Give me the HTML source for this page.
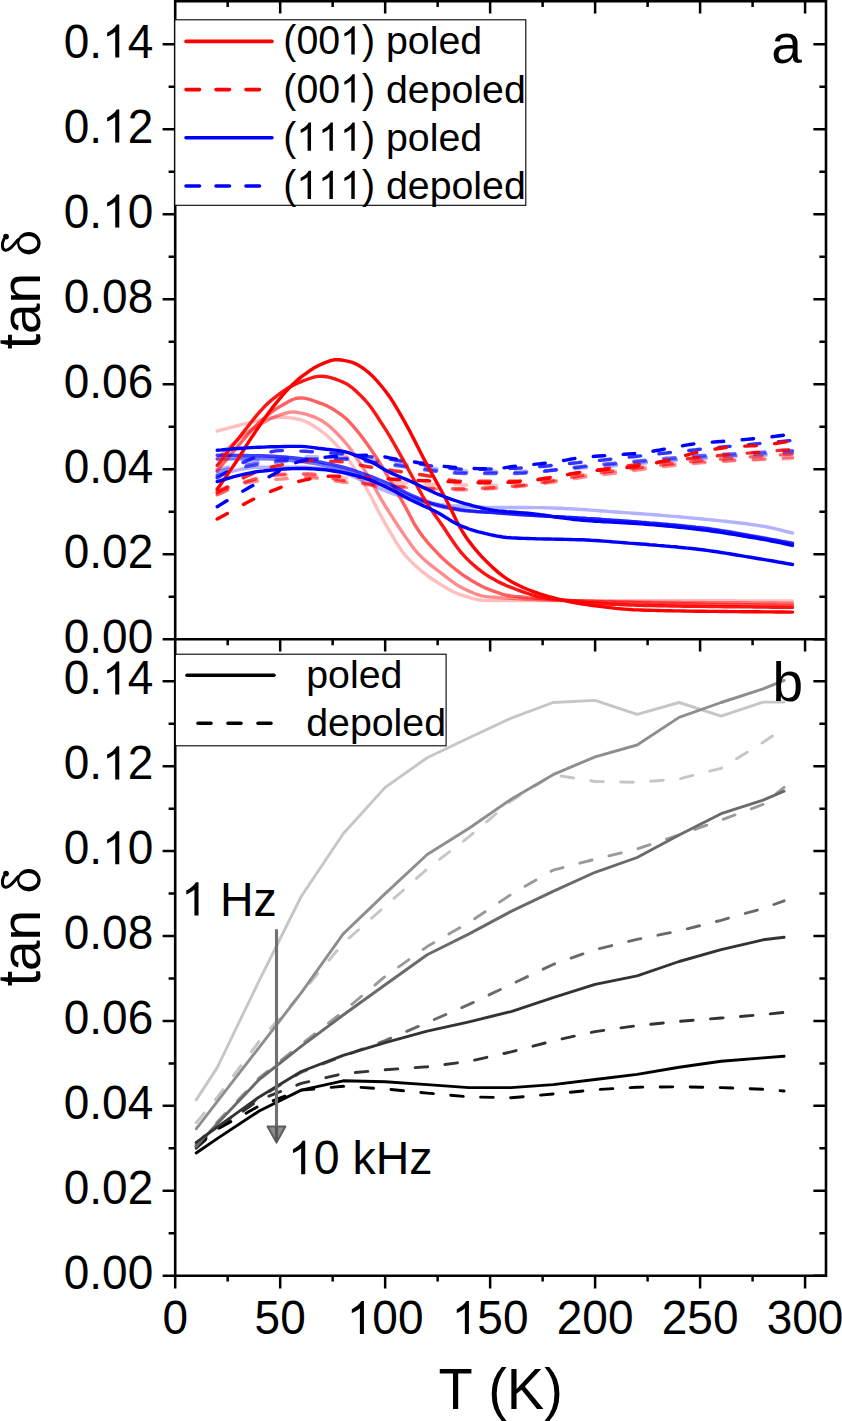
<!DOCTYPE html>
<html><head><meta charset="utf-8"><style>
html,body{margin:0;padding:0;background:#fff;}
svg{display:block;}
text{font-family:"Liberation Sans",sans-serif;fill:#000;font-kerning:none;white-space:pre;}
</style></head><body>
<svg width="842" height="1421" viewBox="0 0 842 1421">
<rect width="842" height="1421" fill="#fff"/>
<path d="M217.2 489.7 L221.4 488.7 L225.6 487.6 L229.8 486.3 L234.0 485.1 L238.2 483.8 L242.4 482.5 L246.6 481.3 L250.8 480.1 L255.0 478.9 L259.2 477.9 L263.4 477.0 L267.6 476.3 L271.8 475.7 L276.0 475.4 L280.2 475.2 L284.4 475.3 L288.6 475.3 L292.8 475.4 L297.0 475.5 L301.2 475.7 L305.4 475.8 L309.6 476.0 L313.8 476.2 L318.0 476.4 L322.2 476.7 L326.4 476.9 L330.6 477.1 L334.8 477.3 L339.0 477.6 L343.2 477.8 L347.4 478.0 L351.6 478.3 L355.8 478.6 L360.0 479.0 L364.2 479.3 L368.4 479.7 L372.6 480.1 L376.8 480.5 L381.0 480.9 L385.2 481.3 L389.4 481.7 L393.6 482.0 L397.8 482.4 L402.0 482.8 L406.2 483.1 L410.4 483.4 L414.6 483.6 L418.8 483.9 L423.0 484.0 L427.2 484.2 L431.4 484.3 L435.6 484.4 L439.7 484.5 L443.9 484.6 L448.1 484.7 L452.3 484.8 L456.5 484.8 L460.7 484.9 L464.9 485.0 L469.1 485.1 L473.3 485.1 L477.5 485.2 L481.7 485.3 L485.9 485.3 L490.1 485.4 L494.3 485.4 L498.5 485.4 L502.7 485.4 L506.9 485.4 L511.1 485.4 L515.3 485.4 L519.5 485.2 L523.7 484.9 L527.9 484.6 L532.1 484.1 L536.3 483.5 L540.5 482.9 L544.7 482.3 L548.9 481.6 L553.1 480.8 L557.3 480.1 L561.5 479.3 L565.7 478.5 L569.9 477.7 L574.1 476.9 L578.3 476.1 L582.5 475.4 L586.7 474.7 L590.9 474.1 L595.1 473.5 L599.3 473.0 L603.5 472.5 L607.7 471.9 L611.9 471.3 L616.1 470.8 L620.3 470.2 L624.5 469.6 L628.7 469.1 L632.9 468.5 L637.1 467.9 L641.3 467.4 L645.5 466.9 L649.7 466.3 L653.9 465.8 L658.1 465.3 L662.3 464.8 L666.5 464.4 L670.7 463.9 L674.9 463.5 L679.1 463.1 L683.3 462.8 L687.5 462.4 L691.7 462.1 L695.9 461.9 L700.1 461.6 L704.3 461.4 L708.5 461.3 L712.7 461.1 L716.9 460.9 L721.1 460.8 L725.3 460.6 L729.5 460.5 L733.7 460.3 L737.9 460.2 L742.1 460.1 L746.3 460.0 L750.5 459.8 L754.7 459.7 L758.9 459.6 L763.1 459.5 L767.3 459.4 L771.5 459.3 L775.7 459.2 L779.9 459.1 L784.1 458.9 L788.3 458.8 L792.5 458.7" fill="none" stroke="rgb(255, 0, 0)" stroke-opacity="0.25" stroke-width="3.4" stroke-linecap="round" stroke-linejoin="round" stroke-dasharray="11.5 18.5"/>
<path d="M217.2 469.3 L221.4 468.4 L225.6 467.5 L229.8 466.6 L234.0 465.6 L238.2 464.7 L242.4 463.8 L246.6 462.9 L250.8 462.1 L255.0 461.4 L259.2 460.8 L263.4 460.2 L267.6 459.6 L271.8 459.0 L276.0 458.5 L280.2 458.0 L284.4 457.5 L288.6 457.1 L292.8 456.8 L297.0 456.6 L301.2 456.5 L305.4 456.6 L309.6 456.6 L313.8 456.6 L318.0 456.7 L322.2 456.8 L326.4 456.9 L330.6 457.0 L334.8 457.1 L339.0 457.3 L343.2 457.4 L347.4 457.6 L351.6 457.9 L355.8 458.2 L360.0 458.7 L364.2 459.1 L368.4 459.7 L372.6 460.2 L376.8 460.7 L381.0 461.2 L385.2 461.6 L389.4 462.1 L393.6 462.6 L397.8 463.2 L402.0 463.7 L406.2 464.3 L410.4 464.9 L414.6 465.5 L418.8 466.1 L423.0 466.7 L427.2 467.3 L431.4 467.8 L435.6 468.4 L439.7 468.9 L443.9 469.3 L448.1 469.8 L452.3 470.1 L456.5 470.4 L460.7 470.7 L464.9 470.9 L469.1 471.0 L473.3 471.1 L477.5 471.1 L481.7 471.2 L485.9 471.3 L490.1 471.3 L494.3 471.3 L498.5 471.4 L502.7 471.4 L506.9 471.4 L511.1 471.4 L515.3 471.4 L519.5 471.4 L523.7 471.3 L527.9 471.1 L532.1 471.0 L536.3 470.8 L540.5 470.6 L544.7 470.4 L548.9 470.2 L553.1 469.9 L557.3 469.7 L561.5 469.4 L565.7 469.1 L569.9 468.9 L574.1 468.6 L578.3 468.3 L582.5 468.0 L586.7 467.7 L590.9 467.4 L595.1 467.2 L599.3 466.9 L603.5 466.6 L607.7 466.3 L611.9 466.0 L616.1 465.7 L620.3 465.3 L624.5 465.0 L628.7 464.6 L632.9 464.2 L637.1 463.9 L641.3 463.5 L645.5 463.1 L649.7 462.7 L653.9 462.4 L658.1 462.0 L662.3 461.6 L666.5 461.2 L670.7 460.9 L674.9 460.5 L679.1 460.2 L683.3 459.9 L687.5 459.5 L691.7 459.2 L695.9 458.9 L700.1 458.7 L704.3 458.4 L708.5 458.2 L712.7 457.9 L716.9 457.7 L721.1 457.5 L725.3 457.2 L729.5 457.0 L733.7 456.8 L737.9 456.6 L742.1 456.4 L746.3 456.2 L750.5 456.0 L754.7 455.8 L758.9 455.6 L763.1 455.4 L767.3 455.2 L771.5 455.0 L775.7 454.8 L779.9 454.6 L784.1 454.4 L788.3 454.2 L792.5 454.0" fill="none" stroke="rgb(0, 0, 255)" stroke-opacity="0.25" stroke-width="3.4" stroke-linecap="round" stroke-linejoin="round" stroke-dasharray="11.5 18.5"/>
<path d="M217.2 431.0 L221.4 429.9 L225.6 428.8 L229.8 427.7 L234.0 426.6 L238.2 425.5 L242.4 424.4 L246.6 423.4 L250.8 422.3 L255.0 421.3 L259.2 420.4 L263.4 419.5 L267.6 418.6 L271.8 417.8 L276.0 417.2 L280.2 417.0 L284.4 417.2 L288.6 417.6 L292.8 418.2 L297.0 419.0 L301.2 419.9 L305.4 421.4 L309.6 423.5 L313.8 426.0 L318.0 428.9 L322.2 431.8 L326.4 435.1 L330.6 439.0 L334.8 443.2 L339.0 447.8 L343.2 452.7 L347.4 458.1 L351.6 464.2 L355.8 470.8 L360.0 477.6 L364.2 484.6 L368.4 491.9 L372.6 499.8 L376.8 507.9 L381.0 515.9 L385.2 523.6 L389.4 530.8 L393.6 537.9 L397.8 544.9 L402.0 551.2 L406.2 556.4 L410.4 560.9 L414.6 565.0 L418.8 568.7 L423.0 572.2 L427.2 575.5 L431.4 578.5 L435.6 581.3 L439.7 583.9 L443.9 586.5 L448.1 588.9 L452.3 591.2 L456.5 593.2 L460.7 594.9 L464.9 596.2 L469.1 597.4 L473.3 598.6 L477.5 599.5 L481.7 600.2 L485.9 600.6 L490.1 600.6 L494.3 600.6 L498.5 600.6 L502.7 600.6 L506.9 600.6 L511.1 600.6 L515.3 600.6 L519.5 600.6 L523.7 600.6 L527.9 600.6 L532.1 600.6 L536.3 600.6 L540.5 600.6 L544.7 600.6 L548.9 600.6 L553.1 600.6 L557.3 600.6 L561.5 600.6 L565.7 600.6 L569.9 600.6 L574.1 600.6 L578.3 600.6 L582.5 600.6 L586.7 600.6 L590.9 600.6 L595.1 600.6 L599.3 600.6 L603.5 600.6 L607.7 600.6 L611.9 600.6 L616.1 600.6 L620.3 600.6 L624.5 600.6 L628.7 600.6 L632.9 600.6 L637.1 600.6 L641.3 600.6 L645.5 600.6 L649.7 600.6 L653.9 600.6 L658.1 600.6 L662.3 600.6 L666.5 600.6 L670.7 600.7 L674.9 600.7 L679.1 600.7 L683.3 600.7 L687.5 600.7 L691.7 600.7 L695.9 600.7 L700.1 600.7 L704.3 600.7 L708.5 600.8 L712.7 600.8 L716.9 600.8 L721.1 600.8 L725.3 600.8 L729.5 600.8 L733.7 600.8 L737.9 600.9 L742.1 600.9 L746.3 600.9 L750.5 600.9 L754.7 600.9 L758.9 600.9 L763.1 601.0 L767.3 601.0 L771.5 601.0 L775.7 601.0 L779.9 601.0 L784.1 601.0 L788.3 601.0 L792.5 601.0" fill="none" stroke="rgb(255, 0, 0)" stroke-opacity="0.25" stroke-width="3.4" stroke-linecap="round" stroke-linejoin="round"/>
<path d="M217.2 474.4 L221.4 473.6 L225.6 472.7 L229.8 471.8 L234.0 470.8 L238.2 469.9 L242.4 469.0 L246.6 468.3 L250.8 467.7 L255.0 467.3 L259.2 467.2 L263.4 467.2 L267.6 467.2 L271.8 467.2 L276.0 467.2 L280.2 467.2 L284.4 467.2 L288.6 467.2 L292.8 467.2 L297.0 467.2 L301.2 467.2 L305.4 467.2 L309.6 467.5 L313.8 467.8 L318.0 468.3 L322.2 468.8 L326.4 469.5 L330.6 470.2 L334.8 471.0 L339.0 471.8 L343.2 472.7 L347.4 473.9 L351.6 475.6 L355.8 477.6 L360.0 479.7 L364.2 481.8 L368.4 483.7 L372.6 485.5 L376.8 487.3 L381.0 489.1 L385.2 490.7 L389.4 492.3 L393.6 493.8 L397.8 495.3 L402.0 496.7 L406.2 498.0 L410.4 499.0 L414.6 500.0 L418.8 500.9 L423.0 501.8 L427.2 502.6 L431.4 503.3 L435.6 503.9 L439.7 504.4 L443.9 504.9 L448.1 505.3 L452.3 505.7 L456.5 506.0 L460.7 506.3 L464.9 506.6 L469.1 506.8 L473.3 507.0 L477.5 507.2 L481.7 507.3 L485.9 507.4 L490.1 507.5 L494.3 507.5 L498.5 507.5 L502.7 507.5 L506.9 507.5 L511.1 507.5 L515.3 507.5 L519.5 507.5 L523.7 507.5 L527.9 507.5 L532.1 507.6 L536.3 507.6 L540.5 507.6 L544.7 507.7 L548.9 507.9 L553.1 508.0 L557.3 508.2 L561.5 508.3 L565.7 508.6 L569.9 508.8 L574.1 509.0 L578.3 509.3 L582.5 509.5 L586.7 509.8 L590.9 510.1 L595.1 510.4 L599.3 510.7 L603.5 511.0 L607.7 511.4 L611.9 511.7 L616.1 512.0 L620.3 512.3 L624.5 512.6 L628.7 512.9 L632.9 513.2 L637.1 513.5 L641.3 513.8 L645.5 514.1 L649.7 514.4 L653.9 514.7 L658.1 515.0 L662.3 515.4 L666.5 515.7 L670.7 516.1 L674.9 516.4 L679.1 516.8 L683.3 517.2 L687.5 517.6 L691.7 518.0 L695.9 518.4 L700.1 518.8 L704.3 519.2 L708.5 519.6 L712.7 520.0 L716.9 520.4 L721.1 520.9 L725.3 521.3 L729.5 521.8 L733.7 522.2 L737.9 522.7 L742.1 523.2 L746.3 523.8 L750.5 524.4 L754.7 525.0 L758.9 525.6 L763.1 526.2 L767.3 527.0 L771.5 527.9 L775.7 528.9 L779.9 529.9 L784.1 531.0 L788.3 532.0 L792.5 533.0" fill="none" stroke="rgb(0, 0, 255)" stroke-opacity="0.3" stroke-width="3.4" stroke-linecap="round" stroke-linejoin="round"/>
<path d="M217.2 471.4 L221.4 470.5 L225.6 469.6 L229.8 468.7 L234.0 467.8 L238.2 466.8 L242.4 465.9 L246.6 465.1 L250.8 464.3 L255.0 463.5 L259.2 462.9 L263.4 462.3 L267.6 461.8 L271.8 461.2 L276.0 460.6 L280.2 460.1 L284.4 459.6 L288.6 459.2 L292.8 458.9 L297.0 458.7 L301.2 458.7 L305.4 458.7 L309.6 458.7 L313.8 458.7 L318.0 458.7 L322.2 458.7 L326.4 458.7 L330.6 458.7 L334.8 458.7 L339.0 458.7 L343.2 458.7 L347.4 458.8 L351.6 459.0 L355.8 459.4 L360.0 459.9 L364.2 460.4 L368.4 461.0 L372.6 461.7 L376.8 462.3 L381.0 462.8 L385.2 463.3 L389.4 463.8 L393.6 464.4 L397.8 464.9 L402.0 465.5 L406.2 466.1 L410.4 466.7 L414.6 467.4 L418.8 468.0 L423.0 468.6 L427.2 469.2 L431.4 469.8 L435.6 470.3 L439.7 470.8 L443.9 471.3 L448.1 471.7 L452.3 472.0 L456.5 472.3 L460.7 472.5 L464.9 472.7 L469.1 472.7 L473.3 472.7 L477.5 472.7 L481.7 472.7 L485.9 472.7 L490.1 472.7 L494.3 472.7 L498.5 472.7 L502.7 472.7 L506.9 472.7 L511.1 472.7 L515.3 472.7 L519.5 472.6 L523.7 472.4 L527.9 472.2 L532.1 472.0 L536.3 471.7 L540.5 471.3 L544.7 471.0 L548.9 470.6 L553.1 470.1 L557.3 469.7 L561.5 469.3 L565.7 468.8 L569.9 468.4 L574.1 467.9 L578.3 467.5 L582.5 467.1 L586.7 466.6 L590.9 466.3 L595.1 465.9 L599.3 465.6 L603.5 465.2 L607.7 464.9 L611.9 464.5 L616.1 464.1 L620.3 463.8 L624.5 463.4 L628.7 463.1 L632.9 462.7 L637.1 462.3 L641.3 462.0 L645.5 461.6 L649.7 461.3 L653.9 460.9 L658.1 460.6 L662.3 460.2 L666.5 459.9 L670.7 459.5 L674.9 459.2 L679.1 458.9 L683.3 458.6 L687.5 458.3 L691.7 458.0 L695.9 457.7 L700.1 457.4 L704.3 457.1 L708.5 456.9 L712.7 456.6 L716.9 456.4 L721.1 456.1 L725.3 455.9 L729.5 455.6 L733.7 455.4 L737.9 455.2 L742.1 455.0 L746.3 454.7 L750.5 454.5 L754.7 454.3 L758.9 454.1 L763.1 453.9 L767.3 453.6 L771.5 453.4 L775.7 453.2 L779.9 453.0 L784.1 452.8 L788.3 452.5 L792.5 452.3" fill="none" stroke="rgb(0, 0, 255)" stroke-opacity="0.42" stroke-width="3.4" stroke-linecap="round" stroke-linejoin="round" stroke-dasharray="11.5 18.5"/>
<path d="M217.2 491.4 L221.4 490.2 L225.6 488.9 L229.8 487.5 L234.0 486.2 L238.2 484.9 L242.4 483.8 L246.6 482.8 L250.8 482.0 L255.0 481.5 L259.2 480.9 L263.4 480.5 L267.6 480.0 L271.8 479.7 L276.0 479.4 L280.2 479.1 L284.4 478.8 L288.6 478.6 L292.8 478.3 L297.0 478.1 L301.2 477.9 L305.4 477.8 L309.6 477.8 L313.8 477.9 L318.0 478.3 L322.2 478.8 L326.4 479.5 L330.6 480.1 L334.8 480.9 L339.0 481.5 L343.2 482.0 L347.4 482.5 L351.6 483.0 L355.8 483.5 L360.0 484.0 L364.2 484.4 L368.4 484.9 L372.6 485.3 L376.8 485.7 L381.0 486.0 L385.2 486.3 L389.4 486.6 L393.6 486.8 L397.8 487.1 L402.0 487.4 L406.2 487.6 L410.4 487.9 L414.6 488.1 L418.8 488.3 L423.0 488.6 L427.2 488.8 L431.4 489.0 L435.6 489.1 L439.7 489.3 L443.9 489.4 L448.1 489.5 L452.3 489.6 L456.5 489.7 L460.7 489.7 L464.9 489.7 L469.1 489.6 L473.3 489.5 L477.5 489.4 L481.7 489.2 L485.9 488.9 L490.1 488.7 L494.3 488.4 L498.5 488.1 L502.7 487.8 L506.9 487.5 L511.1 487.1 L515.3 486.8 L519.5 486.4 L523.7 486.0 L527.9 485.5 L532.1 485.0 L536.3 484.4 L540.5 483.9 L544.7 483.3 L548.9 482.6 L553.1 482.0 L557.3 481.3 L561.5 480.7 L565.7 480.0 L569.9 479.4 L574.1 478.7 L578.3 478.1 L582.5 477.4 L586.7 476.8 L590.9 476.2 L595.1 475.7 L599.3 475.1 L603.5 474.6 L607.7 474.0 L611.9 473.5 L616.1 472.9 L620.3 472.3 L624.5 471.7 L628.7 471.2 L632.9 470.6 L637.1 470.0 L641.3 469.5 L645.5 468.9 L649.7 468.4 L653.9 467.8 L658.1 467.3 L662.3 466.8 L666.5 466.3 L670.7 465.8 L674.9 465.3 L679.1 464.9 L683.3 464.5 L687.5 464.0 L691.7 463.6 L695.9 463.3 L700.1 462.9 L704.3 462.6 L708.5 462.3 L712.7 462.0 L716.9 461.7 L721.1 461.4 L725.3 461.2 L729.5 460.9 L733.7 460.6 L737.9 460.4 L742.1 460.2 L746.3 459.9 L750.5 459.7 L754.7 459.5 L758.9 459.3 L763.1 459.0 L767.3 458.8 L771.5 458.6 L775.7 458.4 L779.9 458.1 L784.1 457.9 L788.3 457.6 L792.5 457.4" fill="none" stroke="rgb(255, 0, 0)" stroke-opacity="0.45" stroke-width="3.4" stroke-linecap="round" stroke-linejoin="round" stroke-dasharray="11.5 18.5"/>
<path d="M217.2 458.7 L221.4 454.8 L225.6 450.8 L229.8 446.9 L234.0 443.1 L238.2 439.5 L242.4 436.2 L246.6 433.0 L250.8 430.0 L255.0 427.2 L259.2 424.7 L263.4 422.4 L267.6 420.2 L271.8 418.1 L276.0 416.4 L280.2 414.9 L284.4 413.6 L288.6 412.4 L292.8 411.9 L297.0 412.3 L301.2 413.1 L305.4 414.0 L309.6 415.3 L313.8 416.8 L318.0 418.8 L322.2 421.0 L326.4 423.8 L330.6 427.3 L334.8 431.2 L339.0 435.5 L343.2 440.0 L347.4 445.0 L351.6 450.6 L355.8 456.8 L360.0 463.2 L364.2 469.7 L368.4 476.6 L372.6 483.9 L376.8 491.4 L381.0 498.8 L385.2 505.8 L389.4 512.6 L393.6 519.1 L397.8 525.5 L402.0 531.7 L406.2 537.9 L410.4 543.9 L414.6 549.5 L418.8 554.3 L423.0 558.4 L427.2 562.2 L431.4 565.6 L435.6 568.8 L439.7 572.0 L443.9 575.2 L448.1 578.5 L452.3 581.7 L456.5 584.6 L460.7 587.1 L464.9 589.2 L469.1 591.1 L473.3 593.0 L477.5 594.6 L481.7 595.8 L485.9 596.6 L490.1 597.0 L494.3 597.3 L498.5 597.6 L502.7 597.9 L506.9 598.1 L511.1 598.4 L515.3 598.6 L519.5 598.8 L523.7 599.1 L527.9 599.3 L532.1 599.4 L536.3 599.6 L540.5 599.8 L544.7 600.0 L548.9 600.1 L553.1 600.2 L557.3 600.4 L561.5 600.5 L565.7 600.6 L569.9 600.7 L574.1 600.8 L578.3 600.9 L582.5 601.0 L586.7 601.1 L590.9 601.2 L595.1 601.3 L599.3 601.3 L603.5 601.4 L607.7 601.5 L611.9 601.5 L616.1 601.6 L620.3 601.6 L624.5 601.7 L628.7 601.8 L632.9 601.8 L637.1 601.9 L641.3 601.9 L645.5 602.0 L649.7 602.0 L653.9 602.1 L658.1 602.1 L662.3 602.2 L666.5 602.2 L670.7 602.3 L674.9 602.3 L679.1 602.3 L683.3 602.4 L687.5 602.4 L691.7 602.5 L695.9 602.5 L700.1 602.5 L704.3 602.5 L708.5 602.6 L712.7 602.6 L716.9 602.6 L721.1 602.7 L725.3 602.7 L729.5 602.7 L733.7 602.8 L737.9 602.8 L742.1 602.8 L746.3 602.8 L750.5 602.9 L754.7 602.9 L758.9 602.9 L763.1 603.0 L767.3 603.0 L771.5 603.0 L775.7 603.0 L779.9 603.1 L784.1 603.1 L788.3 603.1 L792.5 603.2" fill="none" stroke="rgb(255, 0, 0)" stroke-opacity="0.45" stroke-width="3.4" stroke-linecap="round" stroke-linejoin="round"/>
<path d="M217.2 459.1 L221.4 459.1 L225.6 459.0 L229.8 458.9 L234.0 458.9 L238.2 458.8 L242.4 458.8 L246.6 458.7 L250.8 458.7 L255.0 458.7 L259.2 458.7 L263.4 458.7 L267.6 458.8 L271.8 459.0 L276.0 459.3 L280.2 459.6 L284.4 460.0 L288.6 460.4 L292.8 460.8 L297.0 461.2 L301.2 461.6 L305.4 462.1 L309.6 462.7 L313.8 463.4 L318.0 464.2 L322.2 465.0 L326.4 466.0 L330.6 466.9 L334.8 468.0 L339.0 469.0 L343.2 470.1 L347.4 471.4 L351.6 472.9 L355.8 474.5 L360.0 476.2 L364.2 477.9 L368.4 479.5 L372.6 481.1 L376.8 482.7 L381.0 484.3 L385.2 485.9 L389.4 487.6 L393.6 489.3 L397.8 491.1 L402.0 493.0 L406.2 494.8 L410.4 496.5 L414.6 498.1 L418.8 499.7 L423.0 501.3 L427.2 502.8 L431.4 504.2 L435.6 505.3 L439.7 506.3 L443.9 507.3 L448.1 508.1 L452.3 508.9 L456.5 509.6 L460.7 510.2 L464.9 510.7 L469.1 511.1 L473.3 511.4 L477.5 511.7 L481.7 511.9 L485.9 512.2 L490.1 512.4 L494.3 512.6 L498.5 512.9 L502.7 513.2 L506.9 513.5 L511.1 513.9 L515.3 514.2 L519.5 514.5 L523.7 514.8 L527.9 515.1 L532.1 515.3 L536.3 515.6 L540.5 515.9 L544.7 516.1 L548.9 516.3 L553.1 516.6 L557.3 516.8 L561.5 517.0 L565.7 517.3 L569.9 517.5 L574.1 517.7 L578.3 518.0 L582.5 518.2 L586.7 518.5 L590.9 518.7 L595.1 519.0 L599.3 519.3 L603.5 519.6 L607.7 519.9 L611.9 520.2 L616.1 520.4 L620.3 520.7 L624.5 521.0 L628.7 521.3 L632.9 521.6 L637.1 521.9 L641.3 522.2 L645.5 522.5 L649.7 522.9 L653.9 523.2 L658.1 523.5 L662.3 523.9 L666.5 524.2 L670.7 524.6 L674.9 525.0 L679.1 525.4 L683.3 525.8 L687.5 526.2 L691.7 526.6 L695.9 527.1 L700.1 527.5 L704.3 528.0 L708.5 528.5 L712.7 529.1 L716.9 529.7 L721.1 530.4 L725.3 531.0 L729.5 531.7 L733.7 532.4 L737.9 533.2 L742.1 533.9 L746.3 534.7 L750.5 535.4 L754.7 536.2 L758.9 537.0 L763.1 537.7 L767.3 538.5 L771.5 539.3 L775.7 540.2 L779.9 541.1 L784.1 541.9 L788.3 542.8 L792.5 543.7" fill="none" stroke="rgb(0, 0, 255)" stroke-opacity="0.55" stroke-width="3.4" stroke-linecap="round" stroke-linejoin="round"/>
<path d="M217.2 475.7 L221.4 474.4 L225.6 473.0 L229.8 471.6 L234.0 470.2 L238.2 468.9 L242.4 467.6 L246.6 466.5 L250.8 465.7 L255.0 465.0 L259.2 464.3 L263.4 463.6 L267.6 463.0 L271.8 462.5 L276.0 462.0 L280.2 461.5 L284.4 461.1 L288.6 460.7 L292.8 460.4 L297.0 460.1 L301.2 459.9 L305.4 459.8 L309.6 459.7 L313.8 459.6 L318.0 459.4 L322.2 459.3 L326.4 459.3 L330.6 459.2 L334.8 459.1 L339.0 459.1 L343.2 459.1 L347.4 459.2 L351.6 459.5 L355.8 459.9 L360.0 460.4 L364.2 461.0 L368.4 461.7 L372.6 462.4 L376.8 463.0 L381.0 463.7 L385.2 464.2 L389.4 464.7 L393.6 465.3 L397.8 465.8 L402.0 466.4 L406.2 467.0 L410.4 467.7 L414.6 468.3 L418.8 468.9 L423.0 469.5 L427.2 470.1 L431.4 470.7 L435.6 471.2 L439.7 471.7 L443.9 472.1 L448.1 472.5 L452.3 472.9 L456.5 473.2 L460.7 473.4 L464.9 473.5 L469.1 473.5 L473.3 473.5 L477.5 473.5 L481.7 473.5 L485.9 473.5 L490.1 473.5 L494.3 473.5 L498.5 473.5 L502.7 473.5 L506.9 473.5 L511.1 473.5 L515.3 473.5 L519.5 473.4 L523.7 473.2 L527.9 472.9 L532.1 472.6 L536.3 472.2 L540.5 471.8 L544.7 471.3 L548.9 470.8 L553.1 470.3 L557.3 469.8 L561.5 469.2 L565.7 468.6 L569.9 468.1 L574.1 467.5 L578.3 467.0 L582.5 466.4 L586.7 465.9 L590.9 465.5 L595.1 465.0 L599.3 464.6 L603.5 464.2 L607.7 463.8 L611.9 463.4 L616.1 463.0 L620.3 462.6 L624.5 462.2 L628.7 461.8 L632.9 461.4 L637.1 461.0 L641.3 460.6 L645.5 460.2 L649.7 459.8 L653.9 459.4 L658.1 459.1 L662.3 458.7 L666.5 458.3 L670.7 458.0 L674.9 457.6 L679.1 457.3 L683.3 456.9 L687.5 456.6 L691.7 456.3 L695.9 456.0 L700.1 455.7 L704.3 455.4 L708.5 455.1 L712.7 454.9 L716.9 454.6 L721.1 454.4 L725.3 454.1 L729.5 453.9 L733.7 453.7 L737.9 453.4 L742.1 453.2 L746.3 453.0 L750.5 452.8 L754.7 452.6 L758.9 452.4 L763.1 452.1 L767.3 451.9 L771.5 451.7 L775.7 451.5 L779.9 451.3 L784.1 451.1 L788.3 450.8 L792.5 450.6" fill="none" stroke="rgb(0, 0, 255)" stroke-opacity="0.6" stroke-width="3.4" stroke-linecap="round" stroke-linejoin="round" stroke-dasharray="11.5 18.5"/>
<path d="M217.2 494.8 L221.4 492.9 L225.6 490.9 L229.8 488.9 L234.0 486.9 L238.2 485.0 L242.4 483.2 L246.6 481.7 L250.8 480.3 L255.0 479.2 L259.2 478.0 L263.4 477.0 L267.6 476.0 L271.8 475.2 L276.0 474.7 L280.2 474.4 L284.4 474.3 L288.6 474.2 L292.8 474.1 L297.0 474.1 L301.2 474.0 L305.4 474.0 L309.6 474.0 L313.8 474.2 L318.0 474.9 L322.2 475.8 L326.4 477.0 L330.6 478.1 L334.8 479.1 L339.0 479.9 L343.2 480.6 L347.4 481.2 L351.6 481.8 L355.8 482.4 L360.0 482.9 L364.2 483.4 L368.4 483.9 L372.6 484.4 L376.8 484.8 L381.0 485.1 L385.2 485.4 L389.4 485.7 L393.6 486.0 L397.8 486.3 L402.0 486.5 L406.2 486.8 L410.4 487.1 L414.6 487.3 L418.8 487.5 L423.0 487.7 L427.2 487.9 L431.4 488.1 L435.6 488.3 L439.7 488.4 L443.9 488.6 L448.1 488.7 L452.3 488.8 L456.5 488.8 L460.7 488.8 L464.9 488.8 L469.1 488.8 L473.3 488.7 L477.5 488.5 L481.7 488.3 L485.9 488.1 L490.1 487.8 L494.3 487.5 L498.5 487.2 L502.7 486.9 L506.9 486.6 L511.1 486.3 L515.3 486.0 L519.5 485.5 L523.7 485.1 L527.9 484.5 L532.1 484.0 L536.3 483.3 L540.5 482.7 L544.7 482.0 L548.9 481.3 L553.1 480.6 L557.3 479.8 L561.5 479.1 L565.7 478.3 L569.9 477.6 L574.1 476.8 L578.3 476.1 L582.5 475.4 L586.7 474.8 L590.9 474.1 L595.1 473.5 L599.3 473.0 L603.5 472.4 L607.7 471.8 L611.9 471.3 L616.1 470.7 L620.3 470.1 L624.5 469.6 L628.7 469.0 L632.9 468.5 L637.1 467.9 L641.3 467.4 L645.5 466.9 L649.7 466.3 L653.9 465.8 L658.1 465.3 L662.3 464.8 L666.5 464.3 L670.7 463.8 L674.9 463.4 L679.1 462.9 L683.3 462.4 L687.5 462.0 L691.7 461.6 L695.9 461.2 L700.1 460.8 L704.3 460.4 L708.5 460.1 L712.7 459.7 L716.9 459.4 L721.1 459.0 L725.3 458.7 L729.5 458.4 L733.7 458.1 L737.9 457.8 L742.1 457.5 L746.3 457.2 L750.5 456.9 L754.7 456.6 L758.9 456.3 L763.1 456.1 L767.3 455.8 L771.5 455.5 L775.7 455.2 L779.9 454.9 L784.1 454.6 L788.3 454.3 L792.5 454.0" fill="none" stroke="rgb(255, 0, 0)" stroke-opacity="0.62" stroke-width="3.4" stroke-linecap="round" stroke-linejoin="round" stroke-dasharray="11.5 18.5"/>
<path d="M217.2 470.6 L221.4 465.6 L225.6 460.7 L229.8 455.7 L234.0 450.8 L238.2 445.9 L242.4 441.0 L246.6 436.1 L250.8 431.2 L255.0 426.7 L259.2 422.5 L263.4 418.8 L267.6 415.2 L271.8 411.9 L276.0 408.9 L280.2 406.4 L284.4 404.0 L288.6 401.6 L292.8 399.5 L297.0 398.2 L301.2 397.9 L305.4 398.4 L309.6 399.4 L313.8 400.8 L318.0 402.3 L322.2 403.8 L326.4 405.6 L330.6 407.8 L334.8 410.3 L339.0 413.1 L343.2 416.2 L347.4 419.8 L351.6 424.3 L355.8 429.2 L360.0 434.5 L364.2 440.0 L368.4 445.7 L372.6 451.9 L376.8 458.3 L381.0 465.0 L385.2 471.8 L389.4 478.8 L393.6 486.0 L397.8 493.3 L402.0 500.8 L406.2 508.4 L410.4 516.5 L414.6 524.5 L418.8 531.0 L423.0 536.7 L427.2 541.9 L431.4 546.7 L435.6 551.1 L439.7 555.4 L443.9 559.4 L448.1 563.2 L452.3 566.8 L456.5 570.2 L460.7 573.4 L464.9 576.3 L469.1 579.0 L473.3 581.6 L477.5 584.0 L481.7 586.2 L485.9 588.1 L490.1 589.8 L494.3 591.4 L498.5 592.9 L502.7 594.3 L506.9 595.3 L511.1 595.9 L515.3 596.4 L519.5 596.8 L523.7 597.2 L527.9 597.6 L532.1 597.9 L536.3 598.3 L540.5 598.6 L544.7 598.9 L548.9 599.2 L553.1 599.5 L557.3 599.7 L561.5 600.0 L565.7 600.2 L569.9 600.4 L574.1 600.6 L578.3 600.8 L582.5 601.0 L586.7 601.2 L590.9 601.3 L595.1 601.5 L599.3 601.6 L603.5 601.8 L607.7 601.9 L611.9 602.0 L616.1 602.1 L620.3 602.3 L624.5 602.4 L628.7 602.5 L632.9 602.6 L637.1 602.7 L641.3 602.8 L645.5 602.9 L649.7 603.0 L653.9 603.1 L658.1 603.2 L662.3 603.3 L666.5 603.4 L670.7 603.5 L674.9 603.5 L679.1 603.6 L683.3 603.7 L687.5 603.8 L691.7 603.8 L695.9 603.9 L700.1 604.0 L704.3 604.0 L708.5 604.1 L712.7 604.2 L716.9 604.2 L721.1 604.3 L725.3 604.3 L729.5 604.4 L733.7 604.4 L737.9 604.5 L742.1 604.6 L746.3 604.6 L750.5 604.7 L754.7 604.7 L758.9 604.8 L763.1 604.9 L767.3 604.9 L771.5 605.0 L775.7 605.0 L779.9 605.1 L784.1 605.2 L788.3 605.2 L792.5 605.3" fill="none" stroke="rgb(255, 0, 0)" stroke-opacity="0.62" stroke-width="3.4" stroke-linecap="round" stroke-linejoin="round"/>
<path d="M217.2 455.3 L221.4 455.3 L225.6 455.3 L229.8 455.4 L234.0 455.4 L238.2 455.4 L242.4 455.5 L246.6 455.5 L250.8 455.6 L255.0 455.6 L259.2 455.7 L263.4 455.8 L267.6 456.0 L271.8 456.2 L276.0 456.4 L280.2 456.7 L284.4 457.0 L288.6 457.4 L292.8 457.8 L297.0 458.2 L301.2 458.7 L305.4 459.2 L309.6 460.0 L313.8 460.8 L318.0 461.7 L322.2 462.5 L326.4 463.3 L330.6 464.2 L334.8 465.1 L339.0 466.1 L343.2 467.2 L347.4 468.4 L351.6 469.7 L355.8 471.1 L360.0 472.6 L364.2 474.1 L368.4 475.7 L372.6 477.2 L376.8 478.9 L381.0 480.5 L385.2 482.3 L389.4 484.1 L393.6 486.0 L397.8 488.2 L402.0 490.5 L406.2 492.8 L410.4 494.8 L414.6 496.6 L418.8 498.4 L423.0 500.1 L427.2 501.7 L431.4 503.2 L435.6 504.4 L439.7 505.5 L443.9 506.5 L448.1 507.4 L452.3 508.3 L456.5 509.0 L460.7 509.7 L464.9 510.3 L469.1 510.7 L473.3 511.1 L477.5 511.5 L481.7 511.8 L485.9 512.1 L490.1 512.4 L494.3 512.6 L498.5 513.0 L502.7 513.3 L506.9 513.6 L511.1 513.9 L515.3 514.2 L519.5 514.5 L523.7 514.8 L527.9 515.1 L532.1 515.3 L536.3 515.6 L540.5 515.8 L544.7 516.1 L548.9 516.3 L553.1 516.6 L557.3 516.8 L561.5 517.0 L565.7 517.3 L569.9 517.5 L574.1 517.7 L578.3 518.0 L582.5 518.2 L586.7 518.5 L590.9 518.7 L595.1 519.0 L599.3 519.3 L603.5 519.6 L607.7 519.9 L611.9 520.2 L616.1 520.5 L620.3 520.8 L624.5 521.1 L628.7 521.4 L632.9 521.7 L637.1 522.0 L641.3 522.4 L645.5 522.7 L649.7 523.1 L653.9 523.4 L658.1 523.8 L662.3 524.1 L666.5 524.5 L670.7 524.9 L674.9 525.3 L679.1 525.7 L683.3 526.1 L687.5 526.6 L691.7 527.0 L695.9 527.5 L700.1 527.9 L704.3 528.5 L708.5 529.0 L712.7 529.6 L716.9 530.2 L721.1 530.9 L725.3 531.6 L729.5 532.3 L733.7 533.0 L737.9 533.7 L742.1 534.5 L746.3 535.2 L750.5 536.0 L754.7 536.7 L758.9 537.4 L763.1 538.1 L767.3 538.9 L771.5 539.6 L775.7 540.3 L779.9 541.0 L784.1 541.8 L788.3 542.5 L792.5 543.2" fill="none" stroke="rgb(0, 0, 255)" stroke-opacity="0.75" stroke-width="3.4" stroke-linecap="round" stroke-linejoin="round"/>
<path d="M217.2 477.8 L221.4 475.4 L225.6 472.8 L229.8 470.3 L234.0 467.7 L238.2 465.2 L242.4 462.9 L246.6 460.9 L250.8 459.1 L255.0 457.5 L259.2 455.8 L263.4 454.2 L267.6 452.8 L271.8 451.6 L276.0 450.9 L280.2 450.6 L284.4 450.6 L288.6 450.7 L292.8 450.8 L297.0 451.0 L301.2 451.1 L305.4 451.3 L309.6 451.6 L313.8 451.8 L318.0 452.1 L322.2 452.4 L326.4 452.7 L330.6 453.0 L334.8 453.4 L339.0 453.7 L343.2 454.0 L347.4 454.3 L351.6 454.7 L355.8 455.2 L360.0 455.6 L364.2 456.1 L368.4 456.6 L372.6 457.1 L376.8 457.7 L381.0 458.2 L385.2 458.7 L389.4 459.2 L393.6 459.8 L397.8 460.4 L402.0 461.0 L406.2 461.7 L410.4 462.4 L414.6 463.1 L418.8 463.8 L423.0 464.5 L427.2 465.2 L431.4 465.9 L435.6 466.5 L439.7 467.1 L443.9 467.6 L448.1 468.1 L452.3 468.5 L456.5 468.8 L460.7 469.1 L464.9 469.2 L469.1 469.3 L473.3 469.3 L477.5 469.3 L481.7 469.2 L485.9 469.1 L490.1 469.0 L494.3 468.9 L498.5 468.8 L502.7 468.7 L506.9 468.6 L511.1 468.4 L515.3 468.3 L519.5 468.1 L523.7 467.9 L527.9 467.6 L532.1 467.3 L536.3 466.9 L540.5 466.6 L544.7 466.2 L548.9 465.8 L553.1 465.3 L557.3 464.9 L561.5 464.4 L565.7 464.0 L569.9 463.5 L574.1 463.0 L578.3 462.6 L582.5 462.1 L586.7 461.7 L590.9 461.2 L595.1 460.8 L599.3 460.4 L603.5 460.0 L607.7 459.5 L611.9 459.1 L616.1 458.6 L620.3 458.2 L624.5 457.7 L628.7 457.2 L632.9 456.8 L637.1 456.3 L641.3 455.8 L645.5 455.3 L649.7 454.9 L653.9 454.4 L658.1 453.9 L662.3 453.4 L666.5 453.0 L670.7 452.5 L674.9 452.0 L679.1 451.6 L683.3 451.1 L687.5 450.6 L691.7 450.2 L695.9 449.8 L700.1 449.3 L704.3 448.9 L708.5 448.5 L712.7 448.1 L716.9 447.6 L721.1 447.2 L725.3 446.8 L729.5 446.4 L733.7 446.0 L737.9 445.6 L742.1 445.2 L746.3 444.8 L750.5 444.4 L754.7 444.0 L758.9 443.6 L763.1 443.2 L767.3 442.8 L771.5 442.4 L775.7 442.0 L779.9 441.6 L784.1 441.2 L788.3 440.8 L792.5 440.4" fill="none" stroke="rgb(0, 0, 255)" stroke-opacity="0.8" stroke-width="3.4" stroke-linecap="round" stroke-linejoin="round" stroke-dasharray="11.5 18.5"/>
<path d="M217.2 492.7 L221.4 490.3 L225.6 487.9 L229.8 485.4 L234.0 483.0 L238.2 480.6 L242.4 478.3 L246.6 476.2 L250.8 474.4 L255.0 472.7 L259.2 471.1 L263.4 469.6 L267.6 468.2 L271.8 467.0 L276.0 465.9 L280.2 465.1 L284.4 464.2 L288.6 463.4 L292.8 462.7 L297.0 462.0 L301.2 461.4 L305.4 461.0 L309.6 460.8 L313.8 460.8 L318.0 460.9 L322.2 461.0 L326.4 461.1 L330.6 461.2 L334.8 461.4 L339.0 461.6 L343.2 462.0 L347.4 462.6 L351.6 463.4 L355.8 464.2 L360.0 465.1 L364.2 466.0 L368.4 466.8 L372.6 467.4 L376.8 468.1 L381.0 468.7 L385.2 469.4 L389.4 470.0 L393.6 470.7 L397.8 471.3 L402.0 471.9 L406.2 472.5 L410.4 473.2 L414.6 473.8 L418.8 474.4 L423.0 475.0 L427.2 475.7 L431.4 476.4 L435.6 477.2 L439.7 478.1 L443.9 478.9 L448.1 479.7 L452.3 480.4 L456.5 480.9 L460.7 481.2 L464.9 481.2 L469.1 481.2 L473.3 481.2 L477.5 481.2 L481.7 481.2 L485.9 481.2 L490.1 481.2 L494.3 481.2 L498.5 481.2 L502.7 481.2 L506.9 481.2 L511.1 481.2 L515.3 481.1 L519.5 481.0 L523.7 480.7 L527.9 480.4 L532.1 480.0 L536.3 479.5 L540.5 478.9 L544.7 478.3 L548.9 477.7 L553.1 477.0 L557.3 476.3 L561.5 475.6 L565.7 474.8 L569.9 474.1 L574.1 473.4 L578.3 472.7 L582.5 472.0 L586.7 471.3 L590.9 470.7 L595.1 470.1 L599.3 469.6 L603.5 469.1 L607.7 468.5 L611.9 468.0 L616.1 467.5 L620.3 466.9 L624.5 466.4 L628.7 465.8 L632.9 465.3 L637.1 464.8 L641.3 464.2 L645.5 463.7 L649.7 463.2 L653.9 462.7 L658.1 462.1 L662.3 461.6 L666.5 461.1 L670.7 460.6 L674.9 460.1 L679.1 459.7 L683.3 459.2 L687.5 458.7 L691.7 458.3 L695.9 457.8 L700.1 457.4 L704.3 457.0 L708.5 456.6 L712.7 456.2 L716.9 455.8 L721.1 455.4 L725.3 455.0 L729.5 454.6 L733.7 454.3 L737.9 453.9 L742.1 453.6 L746.3 453.2 L750.5 452.9 L754.7 452.5 L758.9 452.2 L763.1 451.8 L767.3 451.5 L771.5 451.1 L775.7 450.8 L779.9 450.4 L784.1 450.0 L788.3 449.7 L792.5 449.3" fill="none" stroke="rgb(255, 0, 0)" stroke-opacity="0.85" stroke-width="3.4" stroke-linecap="round" stroke-linejoin="round" stroke-dasharray="11.5 18.5"/>
<path d="M217.2 465.5 L221.4 460.1 L225.6 454.6 L229.8 449.2 L234.0 443.9 L238.2 438.7 L242.4 433.4 L246.6 428.0 L250.8 422.7 L255.0 417.4 L259.2 412.4 L263.4 407.8 L267.6 403.5 L271.8 399.9 L276.0 396.5 L280.2 393.4 L284.4 390.5 L288.6 387.8 L292.8 385.4 L297.0 383.4 L301.2 381.7 L305.4 380.0 L309.6 378.5 L313.8 377.2 L318.0 376.4 L322.2 376.2 L326.4 376.7 L330.6 377.6 L334.8 378.9 L339.0 380.5 L343.2 382.2 L347.4 384.3 L351.6 387.3 L355.8 390.9 L360.0 394.9 L364.2 399.2 L368.4 404.0 L372.6 409.6 L376.8 415.8 L381.0 422.3 L385.2 428.9 L389.4 435.7 L393.6 442.9 L397.8 450.4 L402.0 457.9 L406.2 465.5 L410.4 473.2 L414.6 481.1 L418.8 489.1 L423.0 496.7 L427.2 503.7 L431.4 510.0 L435.6 515.9 L439.7 521.7 L443.9 527.8 L448.1 534.2 L452.3 540.5 L456.5 546.5 L460.7 552.0 L464.9 556.7 L469.1 560.9 L473.3 564.8 L477.5 568.4 L481.7 571.7 L485.9 574.6 L490.1 577.2 L494.3 579.6 L498.5 581.9 L502.7 583.9 L506.9 585.8 L511.1 587.4 L515.3 589.0 L519.5 590.6 L523.7 592.1 L527.9 593.5 L532.1 594.8 L536.3 596.0 L540.5 597.0 L544.7 597.8 L548.9 598.4 L553.1 598.9 L557.3 599.4 L561.5 599.9 L565.7 600.4 L569.9 600.9 L574.1 601.3 L578.3 601.7 L582.5 602.1 L586.7 602.5 L590.9 602.8 L595.1 603.1 L599.3 603.4 L603.5 603.7 L607.7 604.0 L611.9 604.2 L616.1 604.4 L620.3 604.6 L624.5 604.8 L628.7 605.0 L632.9 605.1 L637.1 605.2 L641.3 605.4 L645.5 605.5 L649.7 605.5 L653.9 605.6 L658.1 605.7 L662.3 605.8 L666.5 605.9 L670.7 606.0 L674.9 606.0 L679.1 606.1 L683.3 606.2 L687.5 606.2 L691.7 606.3 L695.9 606.3 L700.1 606.4 L704.3 606.4 L708.5 606.5 L712.7 606.5 L716.9 606.6 L721.1 606.6 L725.3 606.7 L729.5 606.7 L733.7 606.8 L737.9 606.8 L742.1 606.9 L746.3 606.9 L750.5 606.9 L754.7 607.0 L758.9 607.0 L763.1 607.1 L767.3 607.1 L771.5 607.2 L775.7 607.2 L779.9 607.3 L784.1 607.3 L788.3 607.4 L792.5 607.4" fill="none" stroke="rgb(255, 0, 0)" stroke-opacity="0.92" stroke-width="3.4" stroke-linecap="round" stroke-linejoin="round"/>
<path d="M217.2 519.0 L221.4 516.7 L225.6 514.5 L229.8 512.2 L234.0 509.9 L238.2 507.5 L242.4 505.1 L246.6 502.7 L250.8 500.5 L255.0 498.5 L259.2 496.5 L263.4 494.5 L267.6 492.7 L271.8 490.9 L276.0 489.3 L280.2 487.6 L284.4 486.0 L288.6 484.5 L292.8 483.0 L297.0 481.8 L301.2 480.8 L305.4 479.9 L309.6 479.0 L313.8 478.2 L318.0 477.4 L322.2 476.8 L326.4 476.4 L330.6 476.1 L334.8 476.1 L339.0 476.2 L343.2 476.3 L347.4 476.5 L351.6 476.7 L355.8 476.9 L360.0 477.2 L364.2 477.4 L368.4 477.6 L372.6 477.8 L376.8 478.1 L381.0 478.4 L385.2 478.6 L389.4 478.9 L393.6 479.2 L397.8 479.5 L402.0 479.7 L406.2 479.9 L410.4 480.1 L414.6 480.3 L418.8 480.5 L423.0 480.7 L427.2 480.8 L431.4 481.0 L435.6 481.2 L439.7 481.3 L443.9 481.5 L448.1 481.6 L452.3 481.8 L456.5 482.0 L460.7 482.2 L464.9 482.3 L469.1 482.5 L473.3 482.7 L477.5 482.8 L481.7 482.9 L485.9 482.9 L490.1 482.9 L494.3 482.8 L498.5 482.7 L502.7 482.6 L506.9 482.4 L511.1 482.2 L515.3 482.0 L519.5 481.8 L523.7 481.5 L527.9 481.0 L532.1 480.5 L536.3 480.0 L540.5 479.4 L544.7 478.8 L548.9 478.2 L553.1 477.6 L557.3 476.8 L561.5 475.9 L565.7 475.0 L569.9 474.2 L574.1 473.4 L578.3 472.7 L582.5 472.1 L586.7 471.6 L590.9 471.1 L595.1 470.6 L599.3 470.2 L603.5 469.7 L607.7 469.3 L611.9 468.9 L616.1 468.5 L620.3 468.1 L624.5 467.7 L628.7 467.3 L632.9 466.8 L637.1 466.3 L641.3 465.7 L645.5 465.0 L649.7 464.2 L653.9 463.3 L658.1 462.4 L662.3 461.4 L666.5 460.4 L670.7 459.5 L674.9 458.4 L679.1 457.2 L683.3 456.0 L687.5 454.8 L691.7 453.7 L695.9 452.7 L700.1 451.9 L704.3 451.1 L708.5 450.3 L712.7 449.5 L716.9 448.8 L721.1 448.2 L725.3 447.6 L729.5 447.2 L733.7 446.9 L737.9 446.6 L742.1 446.3 L746.3 446.1 L750.5 445.9 L754.7 445.7 L758.9 445.4 L763.1 445.1 L767.3 444.6 L771.5 444.1 L775.7 443.5 L779.9 442.8 L784.1 442.1 L788.3 441.5 L792.5 440.8" fill="none" stroke="rgb(255, 0, 0)" stroke-opacity="1.0" stroke-width="3.4" stroke-linecap="round" stroke-linejoin="round" stroke-dasharray="11.5 18.5"/>
<path d="M217.2 506.7 L221.4 504.1 L225.6 501.5 L229.8 499.0 L234.0 496.4 L238.2 493.9 L242.4 491.4 L246.6 489.0 L250.8 486.6 L255.0 484.3 L259.2 482.0 L263.4 479.7 L267.6 477.5 L271.8 475.2 L276.0 472.9 L280.2 470.5 L284.4 468.1 L288.6 465.8 L292.8 463.8 L297.0 462.2 L301.2 461.2 L305.4 460.2 L309.6 459.4 L313.8 458.7 L318.0 458.1 L322.2 457.5 L326.4 457.1 L330.6 456.8 L334.8 456.6 L339.0 456.3 L343.2 456.0 L347.4 455.8 L351.6 455.6 L355.8 455.5 L360.0 455.4 L364.2 455.3 L368.4 455.3 L372.6 455.4 L376.8 455.8 L381.0 456.3 L385.2 457.0 L389.4 457.8 L393.6 458.6 L397.8 459.4 L402.0 460.2 L406.2 460.8 L410.4 461.4 L414.6 462.0 L418.8 462.7 L423.0 463.3 L427.2 463.9 L431.4 464.6 L435.6 465.2 L439.7 465.7 L443.9 466.3 L448.1 466.7 L452.3 467.1 L456.5 467.5 L460.7 467.7 L464.9 468.0 L469.1 468.2 L473.3 468.4 L477.5 468.6 L481.7 468.7 L485.9 468.8 L490.1 468.9 L494.3 468.8 L498.5 468.5 L502.7 468.0 L506.9 467.4 L511.1 466.8 L515.3 466.2 L519.5 465.7 L523.7 465.3 L527.9 464.8 L532.1 464.5 L536.3 464.1 L540.5 463.7 L544.7 463.2 L548.9 462.8 L553.1 462.2 L557.3 461.6 L561.5 460.8 L565.7 460.1 L569.9 459.3 L574.1 458.6 L578.3 457.9 L582.5 457.4 L586.7 457.0 L590.9 456.6 L595.1 456.3 L599.3 456.0 L603.5 455.7 L607.7 455.4 L611.9 455.1 L616.1 454.8 L620.3 454.6 L624.5 454.3 L628.7 454.0 L632.9 453.7 L637.1 453.4 L641.3 452.9 L645.5 452.4 L649.7 451.8 L653.9 451.0 L658.1 450.3 L662.3 449.5 L666.5 448.8 L670.7 448.0 L674.9 447.3 L679.1 446.5 L683.3 445.7 L687.5 444.9 L691.7 444.2 L695.9 443.6 L700.1 443.2 L704.3 442.8 L708.5 442.4 L712.7 442.1 L716.9 441.8 L721.1 441.5 L725.3 441.2 L729.5 440.9 L733.7 440.6 L737.9 440.2 L742.1 439.8 L746.3 439.4 L750.5 439.0 L754.7 438.6 L758.9 438.2 L763.1 437.7 L767.3 437.3 L771.5 436.8 L775.7 436.3 L779.9 435.7 L784.1 435.2 L788.3 434.7 L790.4 434.4" fill="none" stroke="rgb(0, 0, 255)" stroke-opacity="1.0" stroke-width="3.4" stroke-linecap="round" stroke-linejoin="round" stroke-dasharray="11.5 18.5"/>
<path d="M217.2 489.3 L221.4 483.2 L225.6 477.2 L229.8 471.1 L234.0 465.0 L238.2 458.7 L242.4 452.0 L246.6 445.2 L250.8 438.7 L255.0 432.4 L259.2 426.2 L263.4 420.1 L267.6 414.1 L271.8 408.4 L276.0 403.1 L280.2 398.1 L284.4 393.2 L288.6 388.6 L292.8 384.3 L297.0 380.4 L301.2 376.9 L305.4 373.8 L309.6 370.8 L313.8 368.1 L318.0 365.8 L322.2 363.9 L326.4 362.2 L330.6 360.6 L334.8 359.7 L339.0 359.8 L343.2 360.3 L347.4 361.2 L351.6 362.2 L355.8 363.8 L360.0 366.2 L364.2 369.0 L368.4 372.3 L372.6 376.2 L376.8 380.6 L381.0 385.5 L385.2 390.7 L389.4 396.4 L393.6 402.9 L397.8 409.9 L402.0 417.2 L406.2 424.7 L410.4 432.4 L414.6 440.6 L418.8 449.0 L423.0 457.2 L427.2 465.1 L431.4 472.8 L435.6 480.4 L439.7 487.9 L443.9 495.6 L448.1 503.5 L452.3 512.1 L456.5 520.7 L460.7 528.7 L464.9 535.5 L469.1 541.4 L473.3 546.9 L477.5 551.9 L481.7 556.6 L485.9 560.9 L490.1 565.0 L494.3 568.9 L498.5 572.6 L502.7 575.9 L506.9 578.9 L511.1 581.5 L515.3 583.7 L519.5 585.8 L523.7 587.7 L527.9 589.5 L532.1 591.1 L536.3 592.6 L540.5 594.0 L544.7 595.3 L548.9 596.6 L553.1 597.7 L557.3 598.8 L561.5 599.9 L565.7 600.9 L569.9 601.8 L574.1 602.6 L578.3 603.4 L582.5 604.0 L586.7 604.6 L590.9 605.2 L595.1 605.8 L599.3 606.4 L603.5 606.9 L607.7 607.4 L611.9 607.9 L616.1 608.4 L620.3 608.8 L624.5 609.1 L628.7 609.4 L632.9 609.7 L637.1 609.9 L641.3 610.0 L645.5 610.2 L649.7 610.3 L653.9 610.4 L658.1 610.5 L662.3 610.6 L666.5 610.7 L670.7 610.8 L674.9 610.9 L679.1 610.9 L683.3 611.0 L687.5 611.1 L691.7 611.1 L695.9 611.2 L700.1 611.2 L704.3 611.3 L708.5 611.4 L712.7 611.4 L716.9 611.4 L721.1 611.5 L725.3 611.5 L729.5 611.6 L733.7 611.6 L737.9 611.6 L742.1 611.7 L746.3 611.7 L750.5 611.8 L754.7 611.8 L758.9 611.8 L763.1 611.9 L767.3 611.9 L771.5 611.9 L775.7 612.0 L779.9 612.0 L784.1 612.0 L788.3 612.1 L792.5 612.1" fill="none" stroke="rgb(255, 0, 0)" stroke-opacity="1.0" stroke-width="3.4" stroke-linecap="round" stroke-linejoin="round"/>
<path d="M217.2 450.2 L221.4 449.9 L225.6 449.5 L229.8 449.2 L234.0 448.8 L238.2 448.5 L242.4 448.2 L246.6 447.9 L250.8 447.6 L255.0 447.4 L259.2 447.2 L263.4 447.1 L267.6 446.9 L271.8 446.8 L276.0 446.7 L280.2 446.6 L284.4 446.5 L288.6 446.4 L292.8 446.4 L297.0 446.4 L301.2 446.4 L305.4 446.6 L309.6 447.1 L313.8 447.6 L318.0 448.2 L322.2 448.7 L326.4 449.2 L330.6 449.6 L334.8 450.1 L339.0 450.7 L343.2 451.4 L347.4 452.4 L351.6 453.8 L355.8 455.3 L360.0 457.1 L364.2 458.9 L368.4 460.7 L372.6 462.8 L376.8 465.1 L381.0 467.5 L385.2 469.9 L389.4 472.1 L393.6 474.1 L397.8 475.9 L402.0 477.7 L406.2 479.4 L410.4 481.2 L414.6 483.1 L418.8 485.2 L423.0 487.2 L427.2 489.3 L431.4 491.3 L435.6 493.2 L439.7 494.9 L443.9 496.5 L448.1 498.1 L452.3 499.6 L456.5 501.0 L460.7 502.3 L464.9 503.6 L469.1 504.7 L473.3 505.9 L477.5 506.9 L481.7 508.0 L485.9 508.9 L490.1 509.7 L494.3 510.4 L498.5 510.9 L502.7 511.3 L506.9 511.7 L511.1 512.0 L515.3 512.3 L519.5 512.6 L523.7 512.9 L527.9 513.3 L532.1 513.7 L536.3 514.2 L540.5 514.8 L544.7 515.3 L548.9 515.9 L553.1 516.6 L557.3 517.2 L561.5 517.8 L565.7 518.4 L569.9 518.9 L574.1 519.5 L578.3 519.9 L582.5 520.3 L586.7 520.6 L590.9 520.9 L595.1 521.2 L599.3 521.4 L603.5 521.7 L607.7 521.9 L611.9 522.1 L616.1 522.3 L620.3 522.6 L624.5 522.8 L628.7 523.0 L632.9 523.3 L637.1 523.6 L641.3 523.9 L645.5 524.2 L649.7 524.5 L653.9 524.9 L658.1 525.2 L662.3 525.6 L666.5 526.0 L670.7 526.4 L674.9 526.8 L679.1 527.2 L683.3 527.6 L687.5 528.1 L691.7 528.6 L695.9 529.0 L700.1 529.6 L704.3 530.1 L708.5 530.6 L712.7 531.2 L716.9 531.8 L721.1 532.4 L725.3 533.1 L729.5 533.7 L733.7 534.4 L737.9 535.1 L742.1 535.8 L746.3 536.5 L750.5 537.2 L754.7 537.9 L758.9 538.7 L763.1 539.4 L767.3 540.2 L771.5 541.0 L775.7 541.9 L779.9 542.7 L784.1 543.6 L788.3 544.5 L792.5 545.4" fill="none" stroke="rgb(0, 0, 255)" stroke-opacity="1.0" stroke-width="3.4" stroke-linecap="round" stroke-linejoin="round"/>
<path d="M217.2 481.6 L221.4 480.4 L225.6 479.1 L229.8 477.9 L234.0 476.7 L238.2 475.7 L242.4 474.7 L246.6 473.7 L250.8 472.8 L255.0 472.0 L259.2 471.4 L263.4 471.0 L267.6 470.5 L271.8 470.1 L276.0 469.7 L280.2 469.3 L284.4 469.0 L288.6 468.8 L292.8 468.6 L297.0 468.5 L301.2 468.5 L305.4 468.5 L309.6 468.7 L313.8 468.9 L318.0 469.2 L322.2 469.5 L326.4 469.9 L330.6 470.5 L334.8 471.2 L339.0 471.9 L343.2 472.7 L347.4 473.5 L351.6 474.5 L355.8 475.6 L360.0 476.7 L364.2 478.0 L368.4 479.4 L372.6 480.9 L376.8 482.7 L381.0 484.6 L385.2 486.6 L389.4 488.7 L393.6 490.7 L397.8 493.0 L402.0 495.3 L406.2 497.5 L410.4 499.7 L414.6 501.7 L418.8 503.6 L423.0 505.6 L427.2 507.5 L431.4 509.5 L435.6 511.6 L439.7 513.8 L443.9 516.3 L448.1 518.9 L452.3 521.5 L456.5 523.8 L460.7 525.8 L464.9 527.4 L469.1 529.0 L473.3 530.4 L477.5 531.7 L481.7 532.7 L485.9 533.7 L490.1 534.7 L494.3 535.5 L498.5 536.3 L502.7 537.0 L506.9 537.5 L511.1 537.8 L515.3 538.0 L519.5 538.2 L523.7 538.4 L527.9 538.5 L532.1 538.6 L536.3 538.8 L540.5 538.9 L544.7 539.0 L548.9 539.0 L553.1 539.1 L557.3 539.2 L561.5 539.3 L565.7 539.4 L569.9 539.5 L574.1 539.6 L578.3 539.7 L582.5 539.8 L586.7 540.0 L590.9 540.3 L595.1 540.5 L599.3 540.8 L603.5 541.1 L607.7 541.4 L611.9 541.8 L616.1 542.1 L620.3 542.4 L624.5 542.7 L628.7 543.1 L632.9 543.4 L637.1 543.7 L641.3 544.0 L645.5 544.3 L649.7 544.7 L653.9 545.0 L658.1 545.4 L662.3 545.7 L666.5 546.1 L670.7 546.5 L674.9 546.8 L679.1 547.3 L683.3 547.7 L687.5 548.1 L691.7 548.5 L695.9 549.0 L700.1 549.5 L704.3 550.0 L708.5 550.6 L712.7 551.2 L716.9 551.8 L721.1 552.5 L725.3 553.1 L729.5 553.8 L733.7 554.5 L737.9 555.2 L742.1 555.9 L746.3 556.6 L750.5 557.3 L754.7 558.0 L758.9 558.7 L763.1 559.4 L767.3 560.1 L771.5 560.8 L775.7 561.5 L779.9 562.3 L784.1 563.0 L788.3 563.8 L792.5 564.5" fill="none" stroke="rgb(0, 0, 255)" stroke-opacity="1.0" stroke-width="3.4" stroke-linecap="round" stroke-linejoin="round"/>
<path d="M196.2 1122.8 L217.2 1097.4 L259.2 1041.3 L301.2 993.3 L343.2 943.2 L385.2 906.3 L427.2 868.9 L469.1 836.7 L511.1 801.0 L553.1 774.7 L595.1 781.5 L637.1 782.3 L679.1 778.9 L721.1 768.3 L763.1 742.4 L784.1 728.0" fill="none" stroke="#c6c6c6" stroke-width="2.9" stroke-linecap="round" stroke-linejoin="round" stroke-dasharray="12.6 17.4"/>
<path d="M196.2 1144.5 L217.2 1122.0 L259.2 1077.8 L301.2 1044.3 L343.2 1011.6 L385.2 976.4 L427.2 946.6 L469.1 922.4 L511.1 894.4 L553.1 870.2 L595.1 859.2 L637.1 849.0 L679.1 835.0 L721.1 820.1 L763.1 804.4 L784.1 787.4" fill="none" stroke="#9a9a9a" stroke-width="2.9" stroke-linecap="round" stroke-linejoin="round" stroke-dasharray="12.6 17.4"/>
<path d="M196.2 1143.2 L217.2 1127.9 L259.2 1097.8 L301.2 1072.3 L343.2 1056.2 L385.2 1040.5 L427.2 1022.6 L469.1 1004.4 L511.1 984.4 L553.1 964.5 L595.1 949.6 L637.1 939.4 L679.1 930.9 L721.1 920.3 L763.1 908.4 L784.1 900.8" fill="none" stroke="#6a6a6a" stroke-width="2.9" stroke-linecap="round" stroke-linejoin="round" stroke-dasharray="12.6 17.4"/>
<path d="M196.2 1148.3 L217.2 1129.2 L259.2 1099.9 L301.2 1083.4 L343.2 1073.6 L385.2 1069.8 L427.2 1066.8 L469.1 1061.3 L511.1 1051.9 L553.1 1040.9 L595.1 1031.6 L637.1 1025.6 L679.1 1021.4 L721.1 1018.0 L763.1 1014.6 L784.1 1012.4" fill="none" stroke="#333333" stroke-width="2.9" stroke-linecap="round" stroke-linejoin="round" stroke-dasharray="12.6 17.4"/>
<path d="M196.2 1146.2 L217.2 1129.2 L259.2 1105.9 L301.2 1090.1 L343.2 1086.3 L385.2 1088.9 L427.2 1093.1 L469.1 1096.9 L511.1 1097.8 L553.1 1094.0 L595.1 1089.7 L637.1 1087.2 L679.1 1086.8 L721.1 1087.6 L763.1 1089.3 L784.1 1091.0" fill="none" stroke="#000000" stroke-width="2.9" stroke-linecap="round" stroke-linejoin="round" stroke-dasharray="12.6 17.4"/>
<path d="M196.2 1099.9 L217.2 1067.6 L259.2 980.6 L301.2 896.5 L343.2 833.7 L385.2 787.4 L427.2 757.7 L469.1 737.7 L511.1 718.2 L553.1 702.5 L595.1 700.4 L637.1 714.4 L679.1 702.5 L721.1 716.1 L763.1 702.1 L784.1 702.1" fill="none" stroke="#c6c6c6" stroke-width="2.9" stroke-linecap="round" stroke-linejoin="round"/>
<path d="M196.2 1128.8 L217.2 1101.6 L259.2 1047.3 L301.2 992.9 L343.2 933.9 L385.2 893.6 L427.2 854.5 L469.1 828.2 L511.1 799.3 L553.1 774.7 L595.1 756.8 L637.1 745.0 L679.1 717.4 L721.1 702.5 L763.1 688.9 L784.1 680.4" fill="none" stroke="#8e8e8e" stroke-width="2.9" stroke-linecap="round" stroke-linejoin="round"/>
<path d="M196.2 1146.2 L217.2 1123.7 L259.2 1079.5 L301.2 1046.4 L343.2 1015.0 L385.2 984.8 L427.2 954.7 L469.1 933.9 L511.1 911.4 L553.1 891.4 L595.1 872.3 L637.1 857.5 L679.1 835.0 L721.1 813.7 L763.1 800.1 L784.1 791.2" fill="none" stroke="#6a6a6a" stroke-width="2.9" stroke-linecap="round" stroke-linejoin="round"/>
<path d="M196.2 1142.4 L217.2 1127.1 L259.2 1096.9 L301.2 1071.5 L343.2 1055.3 L385.2 1042.6 L427.2 1031.1 L469.1 1021.8 L511.1 1011.6 L553.1 997.6 L595.1 984.4 L637.1 975.9 L679.1 961.5 L721.1 949.6 L763.1 939.8 L784.1 937.3" fill="none" stroke="#333333" stroke-width="2.9" stroke-linecap="round" stroke-linejoin="round"/>
<path d="M196.2 1153.0 L217.2 1138.6 L259.2 1111.0 L301.2 1090.1 L343.2 1080.8 L385.2 1081.7 L427.2 1084.6 L469.1 1087.6 L511.1 1087.6 L553.1 1084.6 L595.1 1079.5 L637.1 1074.4 L679.1 1067.2 L721.1 1061.3 L763.1 1057.9 L784.1 1056.2" fill="none" stroke="#000000" stroke-width="2.9" stroke-linecap="round" stroke-linejoin="round"/>
<path d="M162.60 639.30H175.20M813.40 639.30H826.00M162.60 1275.70H175.20M813.40 1275.70H826.00M168.60 596.80H175.20M819.40 596.80H826.00M168.60 1233.24H175.20M819.40 1233.24H826.00M162.60 554.30H175.20M813.40 554.30H826.00M162.60 1190.78H175.20M813.40 1190.78H826.00M168.60 511.80H175.20M819.40 511.80H826.00M168.60 1148.32H175.20M819.40 1148.32H826.00M162.60 469.30H175.20M813.40 469.30H826.00M162.60 1105.86H175.20M813.40 1105.86H826.00M168.60 426.80H175.20M819.40 426.80H826.00M168.60 1063.40H175.20M819.40 1063.40H826.00M162.60 384.30H175.20M813.40 384.30H826.00M162.60 1020.94H175.20M813.40 1020.94H826.00M168.60 341.80H175.20M819.40 341.80H826.00M168.60 978.48H175.20M819.40 978.48H826.00M162.60 299.30H175.20M813.40 299.30H826.00M162.60 936.02H175.20M813.40 936.02H826.00M168.60 256.80H175.20M819.40 256.80H826.00M168.60 893.56H175.20M819.40 893.56H826.00M162.60 214.30H175.20M813.40 214.30H826.00M162.60 851.10H175.20M813.40 851.10H826.00M168.60 171.80H175.20M819.40 171.80H826.00M168.60 808.64H175.20M819.40 808.64H826.00M162.60 129.30H175.20M813.40 129.30H826.00M162.60 766.18H175.20M813.40 766.18H826.00M168.60 86.80H175.20M819.40 86.80H826.00M168.60 723.72H175.20M819.40 723.72H826.00M162.60 44.30H175.20M813.40 44.30H826.00M162.60 681.26H175.20M813.40 681.26H826.00M227.69 1.20V7.10M227.69 639.30V645.20M280.18 1.20V13.40M280.18 639.30V651.50M332.67 1.20V7.10M332.67 639.30V645.20M385.16 1.20V13.40M385.16 639.30V651.50M437.65 1.20V7.10M437.65 639.30V645.20M490.14 1.20V13.40M490.14 639.30V651.50M542.63 1.20V7.10M542.63 639.30V645.20M595.12 1.20V13.40M595.12 639.30V651.50M647.61 1.20V7.10M647.61 639.30V645.20M700.10 1.20V13.40M700.10 639.30V651.50M752.59 1.20V7.10M752.59 639.30V645.20M805.08 1.20V13.40M805.08 639.30V651.50M175.20 1275.70V1288.50M227.69 1275.70V1281.60M280.18 1275.70V1288.50M332.67 1275.70V1281.60M385.16 1275.70V1288.50M437.65 1275.70V1281.60M490.14 1275.70V1288.50M542.63 1275.70V1281.60M595.12 1275.70V1288.50M647.61 1275.70V1281.60M700.10 1275.70V1288.50M752.59 1275.70V1281.60M805.08 1275.70V1288.50" stroke="#000" stroke-width="2.5" fill="none"/>
<path d="M175.20 1.20V1275.70M826.00 1.20V1275.70M173.90 1.20H827.30M173.90 639.30H827.30M173.90 1275.70H827.30" stroke="#000" stroke-width="2.6" fill="none"/>
<rect x="174.8" y="19.8" width="351" height="185.5" fill="#fff" stroke="#000" stroke-width="1.1"/>
<path d="M186 41.4H272" stroke="#ff0000" stroke-width="3.6" stroke-linecap="round"/>
<text transform="translate(283.30 54.40) scale(1 1.045)" x="0" y="0" font-size="39.3">(00 )</text>
<path transform="translate(340.10 54.40) scale(0.01919 -0.01919)" d="M763 0L583 0L583 1147Q518 1085 412.5 1023Q307 961 223 930L223 1104Q375 1175 488 1276Q601 1377 647 1472L763 1472Z" fill="#000"/>
<text x="375.04" y="54.40" font-size="39.3"> poled</text>
<path d="M186 89.6h13.5M216 89.6h13.5M246 89.6h13.5" stroke="#ff0000" stroke-width="3.6" stroke-linecap="round"/>
<text transform="translate(283.30 102.60) scale(1 1.045)" x="0" y="0" font-size="39.3">(00 )</text>
<path transform="translate(340.10 102.60) scale(0.01919 -0.01919)" d="M763 0L583 0L583 1147Q518 1085 412.5 1023Q307 961 223 930L223 1104Q375 1175 488 1276Q601 1377 647 1472L763 1472Z" fill="#000"/>
<text x="375.04" y="102.60" font-size="39.3"> depoled</text>
<path d="M186 137.8H272" stroke="#0000ff" stroke-width="3.6" stroke-linecap="round"/>
<text transform="translate(283.30 150.80) scale(1 1.045)" x="0" y="0" font-size="39.3">(   )</text>
<path transform="translate(296.39 150.80) scale(0.01919 -0.01919)" d="M763 0L583 0L583 1147Q518 1085 412.5 1023Q307 961 223 930L223 1104Q375 1175 488 1276Q601 1377 647 1472L763 1472Z" fill="#000"/>
<path transform="translate(318.24 150.80) scale(0.01919 -0.01919)" d="M763 0L583 0L583 1147Q518 1085 412.5 1023Q307 961 223 930L223 1104Q375 1175 488 1276Q601 1377 647 1472L763 1472Z" fill="#000"/>
<path transform="translate(340.10 150.80) scale(0.01919 -0.01919)" d="M763 0L583 0L583 1147Q518 1085 412.5 1023Q307 961 223 930L223 1104Q375 1175 488 1276Q601 1377 647 1472L763 1472Z" fill="#000"/>
<text x="375.04" y="150.80" font-size="39.3"> poled</text>
<path d="M186 186.0h13.5M216 186.0h13.5M246 186.0h13.5" stroke="#0000ff" stroke-width="3.6" stroke-linecap="round"/>
<text transform="translate(283.30 199.00) scale(1 1.045)" x="0" y="0" font-size="39.3">(   )</text>
<path transform="translate(296.39 199.00) scale(0.01919 -0.01919)" d="M763 0L583 0L583 1147Q518 1085 412.5 1023Q307 961 223 930L223 1104Q375 1175 488 1276Q601 1377 647 1472L763 1472Z" fill="#000"/>
<path transform="translate(318.24 199.00) scale(0.01919 -0.01919)" d="M763 0L583 0L583 1147Q518 1085 412.5 1023Q307 961 223 930L223 1104Q375 1175 488 1276Q601 1377 647 1472L763 1472Z" fill="#000"/>
<path transform="translate(340.10 199.00) scale(0.01919 -0.01919)" d="M763 0L583 0L583 1147Q518 1085 412.5 1023Q307 961 223 930L223 1104Q375 1175 488 1276Q601 1377 647 1472L763 1472Z" fill="#000"/>
<text x="375.04" y="199.00" font-size="39.3"> depoled</text>
<rect x="175.3" y="654.2" width="270.8" height="91.6" fill="#fff" stroke="#000" stroke-width="1.1"/>
<path d="M187 675.2H274" stroke="#000" stroke-width="3.6" stroke-linecap="round"/>
<path d="M198 723.2h13M228 723.2h13M258 723.2h13" stroke="#000" stroke-width="3.6" stroke-linecap="round"/>
<text x="306.20" y="688.20" font-size="39.3">poled</text>
<text x="306.20" y="736.20" font-size="39.3">depoled</text>
<text transform="translate(63.77 652.50) scale(1 1.045)" x="0" y="0" font-size="46">0.00</text>
<text transform="translate(63.77 1288.90) scale(1 1.045)" x="0" y="0" font-size="46">0.00</text>
<text transform="translate(63.77 567.50) scale(1 1.045)" x="0" y="0" font-size="46">0.02</text>
<text transform="translate(63.77 1203.98) scale(1 1.045)" x="0" y="0" font-size="46">0.02</text>
<text transform="translate(63.77 482.50) scale(1 1.045)" x="0" y="0" font-size="46">0.04</text>
<text transform="translate(63.77 1119.06) scale(1 1.045)" x="0" y="0" font-size="46">0.04</text>
<text transform="translate(63.77 397.50) scale(1 1.045)" x="0" y="0" font-size="46">0.06</text>
<text transform="translate(63.77 1034.14) scale(1 1.045)" x="0" y="0" font-size="46">0.06</text>
<text transform="translate(63.77 312.50) scale(1 1.045)" x="0" y="0" font-size="46">0.08</text>
<text transform="translate(63.77 949.22) scale(1 1.045)" x="0" y="0" font-size="46">0.08</text>
<text transform="translate(63.77 227.50) scale(1 1.045)" x="0" y="0" font-size="46">0. 0</text>
<path transform="translate(102.13 227.50) scale(0.02246 -0.02246)" d="M763 0L583 0L583 1147Q518 1085 412.5 1023Q307 961 223 930L223 1104Q375 1175 488 1276Q601 1377 647 1472L763 1472Z" fill="#000"/>
<text transform="translate(63.77 864.30) scale(1 1.045)" x="0" y="0" font-size="46">0. 0</text>
<path transform="translate(102.13 864.30) scale(0.02246 -0.02246)" d="M763 0L583 0L583 1147Q518 1085 412.5 1023Q307 961 223 930L223 1104Q375 1175 488 1276Q601 1377 647 1472L763 1472Z" fill="#000"/>
<text transform="translate(63.77 142.50) scale(1 1.045)" x="0" y="0" font-size="46">0. 2</text>
<path transform="translate(102.13 142.50) scale(0.02246 -0.02246)" d="M763 0L583 0L583 1147Q518 1085 412.5 1023Q307 961 223 930L223 1104Q375 1175 488 1276Q601 1377 647 1472L763 1472Z" fill="#000"/>
<text transform="translate(63.77 779.38) scale(1 1.045)" x="0" y="0" font-size="46">0. 2</text>
<path transform="translate(102.13 779.38) scale(0.02246 -0.02246)" d="M763 0L583 0L583 1147Q518 1085 412.5 1023Q307 961 223 930L223 1104Q375 1175 488 1276Q601 1377 647 1472L763 1472Z" fill="#000"/>
<text transform="translate(63.77 57.50) scale(1 1.045)" x="0" y="0" font-size="46">0. 4</text>
<path transform="translate(102.13 57.50) scale(0.02246 -0.02246)" d="M763 0L583 0L583 1147Q518 1085 412.5 1023Q307 961 223 930L223 1104Q375 1175 488 1276Q601 1377 647 1472L763 1472Z" fill="#000"/>
<text transform="translate(63.77 694.46) scale(1 1.045)" x="0" y="0" font-size="46">0. 4</text>
<path transform="translate(102.13 694.46) scale(0.02246 -0.02246)" d="M763 0L583 0L583 1147Q518 1085 412.5 1023Q307 961 223 930L223 1104Q375 1175 488 1276Q601 1377 647 1472L763 1472Z" fill="#000"/>
<text transform="translate(162.41 1334.00) scale(1 1.045)" x="0" y="0" font-size="46">0</text>
<text transform="translate(254.60 1334.00) scale(1 1.045)" x="0" y="0" font-size="46">50</text>
<text transform="translate(346.79 1334.00) scale(1 1.045)" x="0" y="0" font-size="46"> 00</text>
<path transform="translate(346.79 1334.00) scale(0.02246 -0.02246)" d="M763 0L583 0L583 1147Q518 1085 412.5 1023Q307 961 223 930L223 1104Q375 1175 488 1276Q601 1377 647 1472L763 1472Z" fill="#000"/>
<text transform="translate(451.77 1334.00) scale(1 1.045)" x="0" y="0" font-size="46"> 50</text>
<path transform="translate(451.77 1334.00) scale(0.02246 -0.02246)" d="M763 0L583 0L583 1147Q518 1085 412.5 1023Q307 961 223 930L223 1104Q375 1175 488 1276Q601 1377 647 1472L763 1472Z" fill="#000"/>
<text transform="translate(556.75 1334.00) scale(1 1.045)" x="0" y="0" font-size="46">200</text>
<text transform="translate(661.73 1334.00) scale(1 1.045)" x="0" y="0" font-size="46">250</text>
<text transform="translate(766.71 1334.00) scale(1 1.045)" x="0" y="0" font-size="46">300</text>
<text transform="translate(39.8 349.3) rotate(-90) scale(1 1.1)" x="0" y="0" font-size="55">t</text>
<text transform="translate(39.8 349.3) rotate(-90)" x="15.28" y="0" font-size="55">an</text>
<g transform="translate(0 0.0)" fill="none" stroke="#000"><path d="M40.6 243.15A11.75 11.25 0 1 0 17.1 243.15A11.75 11.25 0 1 0 40.6 243.15ZM37.4 243.05A9.1 7.05 0 1 1 19.2 243.05A9.1 7.05 0 1 1 37.4 243.05Z" fill="#000" fill-rule="evenodd" stroke="none"/><path d="M18.2 239.6C14.0 244.0 10.2 250.6 5.6 250.2C2.0 249.8 1.4 244.2 3.7 239.6" stroke-width="3.0" stroke-linecap="round"/><circle cx="6.0" cy="236.6" r="2.9" fill="#000" stroke="none"/></g>
<text transform="translate(39.8 986.3) rotate(-90) scale(1 1.1)" x="0" y="0" font-size="55">t</text>
<text transform="translate(39.8 986.3) rotate(-90)" x="15.28" y="0" font-size="55">an</text>
<g transform="translate(0 637.0)" fill="none" stroke="#000"><path d="M40.6 243.15A11.75 11.25 0 1 0 17.1 243.15A11.75 11.25 0 1 0 40.6 243.15ZM37.4 243.05A9.1 7.05 0 1 1 19.2 243.05A9.1 7.05 0 1 1 37.4 243.05Z" fill="#000" fill-rule="evenodd" stroke="none"/><path d="M18.2 239.6C14.0 244.0 10.2 250.6 5.6 250.2C2.0 249.8 1.4 244.2 3.7 239.6" stroke-width="3.0" stroke-linecap="round"/><circle cx="6.0" cy="236.6" r="2.9" fill="#000" stroke="none"/></g>
<text transform="translate(438.40 1409.20) scale(1 1.04)" x="0" y="0" font-size="56">T (K)</text>
<text x="771.20" y="63.00" font-size="55">a</text>
<text x="772.40" y="701.00" font-size="55">b</text>
<path transform="translate(181.20 915.60) scale(0.02271 -0.02271)" d="M763 0L583 0L583 1147Q518 1085 412.5 1023Q307 961 223 930L223 1104Q375 1175 488 1276Q601 1377 647 1472L763 1472Z" fill="#000"/>
<text transform="translate(207.06 915.60) scale(1 1.02)" x="0" y="0" font-size="46.5"> Hz</text>
<text transform="translate(287.90 1174.20) scale(1 1.045)" x="0" y="0" font-size="46.5"> 0</text>
<path transform="translate(287.90 1174.20) scale(0.02271 -0.02271)" d="M763 0L583 0L583 1147Q518 1085 412.5 1023Q307 961 223 930L223 1104Q375 1175 488 1276Q601 1377 647 1472L763 1472Z" fill="#000"/>
<text x="339.62" y="1174.20" font-size="46.5"> kHz</text>
<path d="M276.5 929.3V1127" stroke="#717171" stroke-width="3.1"/>
<path d="M267.6 1126.4L285.4 1126.4L276.5 1142.6Z" fill="#8c8c8c" stroke="#5e5e5e" stroke-width="2" stroke-linejoin="round"/>
<path d="M276.5 1127V1141" stroke="#565656" stroke-width="3.1"/>
</svg>
</body></html>
